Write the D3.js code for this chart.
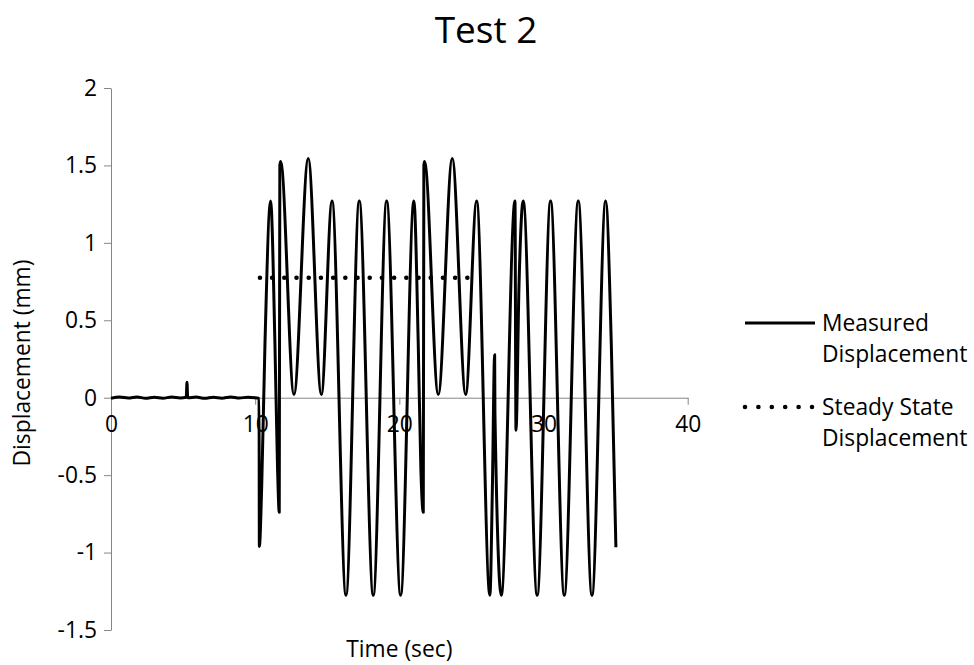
<!DOCTYPE html>
<html>
<head>
<meta charset="utf-8">
<script src="https://cdn.jsdelivr.net/npm/d3@7"></script>
<style>
  body { margin: 0; background: #fff; }
  text { font-family: "Open Sans", sans-serif; fill: #000; }
</style>
</head>
<body>
<svg id="chart" width="974" height="665"></svg>
<script>
// values
const timeSec = [
    0.00, 0.60, 1.20, 1.80, 2.40, 3.00, 3.60, 4.20, 4.80, 5.22, 5.27, 5.32,
    5.90, 6.50, 7.10, 7.70, 8.30, 8.90, 9.50, 10.10, 10.27,
    10.29, 10.45, 10.68, 11.07, 11.37, 11.55, 11.67, 11.71, 11.77,
    12.69, 13.68, 14.59, 15.33, 16.30, 17.22, 18.19, 19.12, 20.09, 21.01,
    21.31, 21.49, 21.66, 21.70, 21.75, 22.70, 23.67, 24.60, 25.36, 26.28,
    26.45, 26.61, 26.63, 27.07, 28.02, 28.09, 28.30, 28.59, 29.56, 30.49,
    31.44, 32.41, 33.36, 34.31, 34.70, 35.02
]
const measuredMm = [
    -0.003, 0.004, -0.002, 0.005, -0.004, 0.003, -0.003, 0.004, -0.002, 0.003, 0.10, 0.000,
    0.004, -0.004, 0.003, -0.003, 0.005, -0.002, 0.003, -0.002, -0.004,
    -0.96, -0.58, 0.35, 1.27, 0.35, -0.45, -0.74, 1.50, 1.525,
    0.02, 1.545, 0.02, 1.27, -1.275, 1.27, -1.275, 1.27, -1.275, 1.27,
    0.35, -0.45, -0.74, 1.50, 1.525, 0.02, 1.545, 0.02, 1.27, -1.275,
    -0.60, 0.277, -0.10, -1.275, 1.27, -0.21, 0.73, 1.27, -1.275, 1.27,
    -1.275, 1.27, -1.275, 1.27, 0.35, -0.966
]
const steadyTime = [10.33, 24.72]
const steadyMm = [0.775, 0.775]

const xTicks = [0, 10, 20, 30, 40]
const yTicks = [-1.5, -1, -0.5, 0, 0.5, 1, 1.5, 2]
const legendNames = [['Measured', 'Displacement'], ['Steady State', 'Displacement']]

const svg = d3.select('#chart')
const margin = {left: 111, right: 687.7, top: 88, bottom: 630}
const axisColor = '#868686'
const fontSize = 22.8

const x = d3.scaleLinear().domain([0, 40]).range([margin.left, margin.right])
const y = d3.scaleLinear().domain([-1.5, 2]).range([margin.bottom, margin.top])

const measured = timeSec.map((t, i) => ({t: t, v: measuredMm[i]}))
const steady = steadyTime.map((t, i) => ({t: t, v: steadyMm[i]}))

// title
svg.append('text')
    .attr('x', 486)
    .attr('y', 43)
    .attr('text-anchor', 'middle')
    .style('font-size', '37px')
    .text('Test 2')

// y axis
const yAxis = svg.append('g')
    .attr('transform', `translate(${margin.left}, 0)`)
    .call(d3.axisLeft(y).tickValues(yTicks).tickSize(7).tickSizeOuter(0).tickPadding(7)
        .tickFormat(d => String(d)))
yAxis.selectAll('path, line').attr('stroke', axisColor)
yAxis.selectAll('text')
    .style('font-size', fontSize + 'px')
    .style('font-family', '"Open Sans", sans-serif')
    .attr('fill', '#000')

// x axis sits on y = 0
const xAxis = svg.append('g')
    .attr('transform', `translate(0, ${y(0)})`)
    .call(d3.axisBottom(x).tickValues(xTicks).tickSize(7).tickSizeOuter(0).tickPadding(11)
        .tickFormat(d => String(d)))
xAxis.selectAll('path, line').attr('stroke', axisColor)
xAxis.selectAll('text')
    .style('font-size', fontSize + 'px')
    .style('font-family', '"Open Sans", sans-serif')
    .attr('fill', '#000')

// axis titles
svg.append('text')
    .attr('x', (margin.left + margin.right) / 2)
    .attr('y', 657)
    .attr('text-anchor', 'middle')
    .style('font-size', fontSize + 'px')
    .text('Time (sec)')

svg.append('text')
    .attr('transform', `translate(30, ${(margin.top + margin.bottom) / 2 + 4})rotate(-90)`)
    .attr('text-anchor', 'middle')
    .style('font-size', fontSize + 'px')
    .text('Displacement (mm)')

// series
const line = d3.line()
    .x(d => x(d.t))
    .y(d => y(d.v))

svg.append('path')
    .datum(measured)
    .attr('fill', 'none')
    .attr('stroke', '#000')
    .attr('stroke-width', 3)
    .attr('stroke-linejoin', 'round')
    .attr('d', line.curve(d3.curveMonotoneX))

svg.append('path')
    .datum(steady)
    .attr('fill', 'none')
    .attr('stroke', '#000')
    .attr('stroke-width', 4.6)
    .attr('stroke-linecap', 'round')
    .attr('stroke-dasharray', '0 12.2')
    .attr('d', d3.line().x(d => x(d.t)).y(d => y(d.v)))

//-----------------------------------
// legend
const legend = svg.append('g').attr('id', 'legend')
const rows = [{y: 323, dash: null}, {y: 407, dash: '0 13.4'}]

rows.forEach((r, i) => {
    legend.append('line')
        .attr('x1', 745)
        .attr('x2', r.dash ? 812 : 815)
        .attr('y1', r.y)
        .attr('y2', r.y)
        .attr('stroke', '#000')
        .attr('stroke-width', r.dash ? 4.6 : 3)
        .attr('stroke-linecap', r.dash ? 'round' : 'butt')
        .attr('stroke-dasharray', r.dash)

    legend.selectAll('text.row' + i)
        .data(legendNames[i])
        .join('text')
        .attr('class', 'row' + i)
        .attr('x', 822)
        .attr('y', (d, j) => r.y + 8 + j * 31)
        .style('font-size', fontSize + 'px')
        .text(d => d)
})
</script>
</body>
</html>
